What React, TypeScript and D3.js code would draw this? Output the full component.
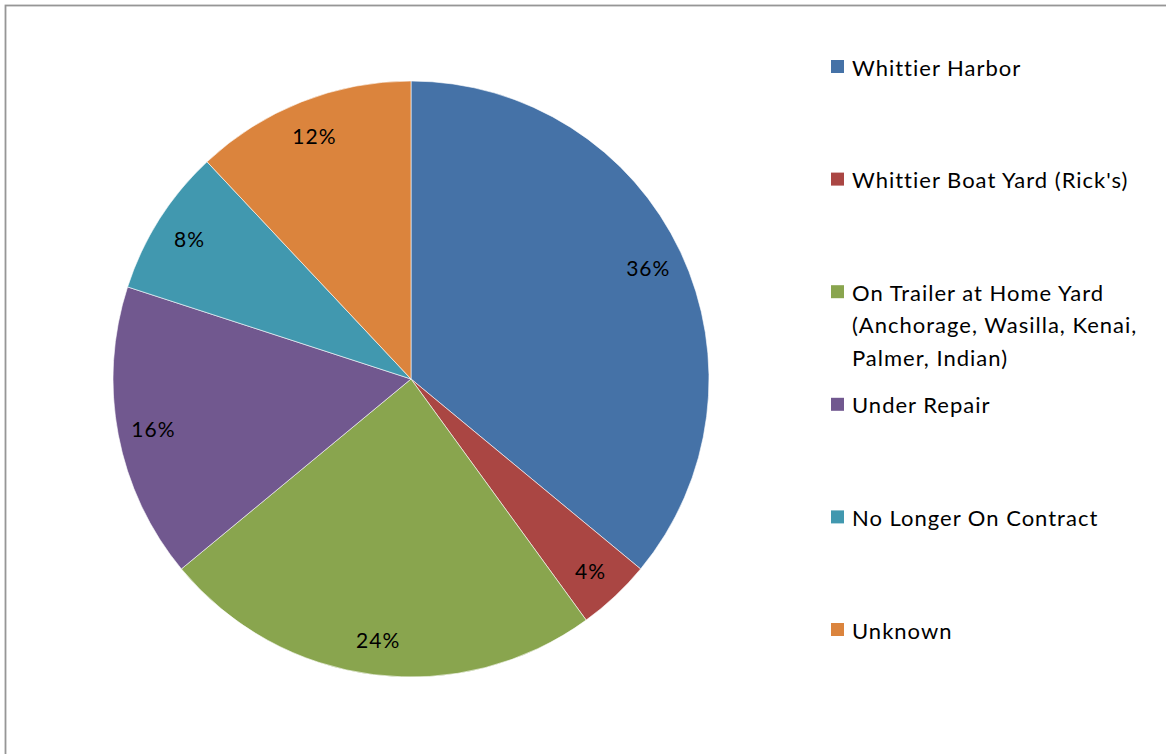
import React from "react";
import * as d3 from "d3";

const categories = [
  "Whittier Harbor",
  "Whittier Boat Yard (Rick's)",
  "On Trailer at Home Yard (Anchorage, Wasilla, Kenai, Palmer, Indian)",
  "Under Repair",
  "No Longer On Contract",
  "Unknown",
];
const legendLines = [
  ["Whittier Harbor"],
  ["Whittier Boat Yard (Rick's)"],
  ["On Trailer at Home Yard", "(Anchorage, Wasilla, Kenai,", "Palmer, Indian)"],
  ["Under Repair"],
  ["No Longer On Contract"],
  ["Unknown"],
];
const values = [36, 4, 24, 16, 8, 12];
const colors = ["#4572A7", "#AA4643", "#89A54E", "#71588F", "#4198AF", "#DB843D"];

const W = 1166;
const H = 754;
const cx = 411;
const cy = 379;
const R = 298;
const FONT = "Lato, 'Open Sans', sans-serif";

export default function App() {
  const pie = d3.pie<number>().sort(null).value((d) => d)(values);
  const arc = d3.arc<d3.PieArcDatum<number>>().innerRadius(0).outerRadius(R);
  const total = d3.sum(values);
  const legendY = d3.scaleLinear().domain([0, 5]).range([67, 630]);
  return (
    <svg
      width={W}
      height={H}
      style={{ position: "absolute", left: 0, top: 0, background: "#fff" }}
    >
      <rect x={0} y={0} width={W} height={H} fill="#fff" />
      <rect x={5.5} y={5.5} width={W + 20} height={H + 20} fill="none" stroke="#969696" strokeWidth={1.8} />
      <g transform={`translate(${cx},${cy})`}>
        {pie.map((p, i) => (
          <path key={i} d={arc(p) || ""} fill={colors[i]} stroke="#fff" strokeWidth={0.6} />
        ))}
        {pie.map((p, i) => {
          const mid = (p.startAngle + p.endAngle) / 2;
          const d = R * 0.88;
          const x = Math.sin(mid) * d;
          const y = -Math.cos(mid) * d;
          return (
            <text
              key={"l" + i}
              x={x}
              y={y}
              textAnchor="middle"
              dominantBaseline="central"
              fontFamily={FONT}
              fontSize={21}
              letterSpacing={1}
              fill="#000"
            >
              {Math.round((values[i] / total) * 100)}%
            </text>
          );
        })}
      </g>
      {categories.map((c, i) => {
        const y = legendY(i);
        return (
          <g key={"lg" + i}>
            <rect x={831} y={y - 7} width={13} height={13} fill={colors[i]} />
            {legendLines[i].map((ln, j) => (
              <text
                key={j}
                x={852}
                y={y + j * 32.5}
                dominantBaseline="central"
                fontFamily={FONT}
                fontSize={22}
                letterSpacing={1}
                fill="#000"
              >
                {ln}
              </text>
            ))}
          </g>
        );
      })}
    </svg>
  );
}
